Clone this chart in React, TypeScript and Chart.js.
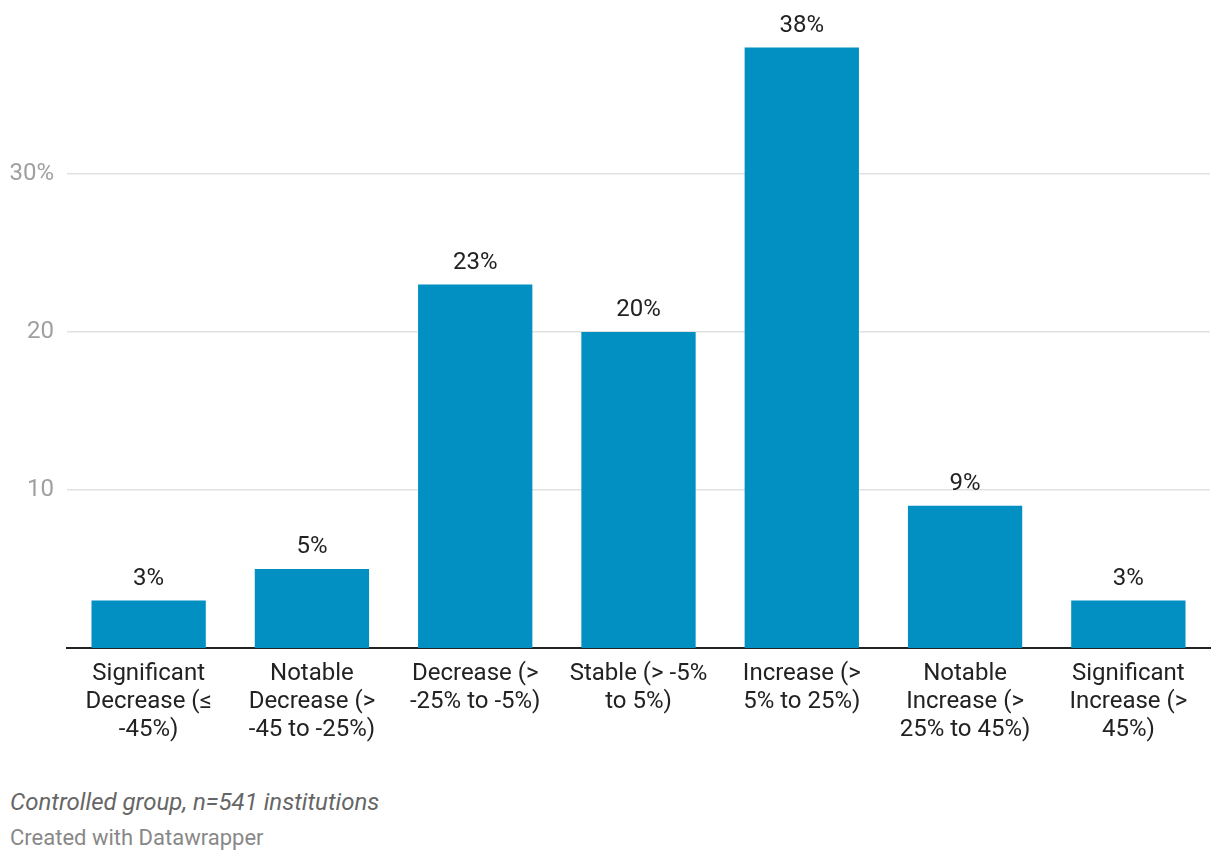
import { useEffect, useRef } from "react";
import { Chart, registerables, Plugin } from "chart.js";

Chart.register(...registerables);

const categories: string[][] = [
  ["Significant", "Decrease (≤", "-45%)"],
  ["Notable", "Decrease (>", "-45 to -25%)"],
  ["Decrease (>", "-25% to -5%)"],
  ["Stable (> -5%", "to 5%)"],
  ["Increase (>", "5% to 25%)"],
  ["Notable", "Increase (>", "25% to 45%)"],
  ["Significant", "Increase (>", "45%)"],
];
const shares = [3, 5, 23, 20, 38, 9, 3];
const yTicks = [10, 20, 30];

const FONT = "Roboto, 'Noto Sans', sans-serif";
const BAR_COLOR = "#0190c1";

// writes the value above every bar
const valueLabels: Plugin<"bar"> = {
  id: "valueLabels",
  afterDatasetsDraw(chart) {
    const ctx = chart.ctx;
    const meta = chart.getDatasetMeta(0);
    ctx.save();
    ctx.font = `24px ${FONT}`;
    ctx.fillStyle = "#222";
    ctx.textAlign = "center";
    ctx.textBaseline = "alphabetic";
    meta.data.forEach((bar, i) => {
      ctx.fillText(`${shares[i]}%`, bar.x, bar.y - 16);
    });
    ctx.restore();
  },
};

export default function App() {
  const canvasRef = useRef<HTMLCanvasElement>(null);

  useEffect(() => {
    if (!canvasRef.current) return;
    const chart = new Chart(canvasRef.current, {
      type: "bar",
      data: {
        labels: categories,
        datasets: [
          {
            data: shares,
            backgroundColor: BAR_COLOR,
            barPercentage: 0.7,
            categoryPercentage: 1,
          },
        ],
      },
      options: {
        animation: false,
        responsive: false,
        layout: { padding: { top: 0, right: 10, left: 0, bottom: 0 } },
        plugins: {
          legend: { display: false },
          tooltip: { enabled: false },
        },
        scales: {
          x: {
            grid: { display: false, drawTicks: false },
            border: { display: true, color: "#222", width: 2 },
            ticks: {
              color: "#222",
              font: { family: FONT, size: 24, lineHeight: 28 / 24 },
              padding: 12,
              maxRotation: 0,
              autoSkip: false,
            },
            afterFit: (scale) => {
              scale.height = 112;
            },
          },
          y: {
            min: 0,
            max: 40,
            afterBuildTicks: (scale) => {
              scale.ticks = yTicks.map((v) => ({ value: v }));
            },
            grid: { color: "#e2e2e2", lineWidth: 1.5, drawTicks: false },
            border: { display: false },
            ticks: {
              color: "#a0a0a0",
              // small line height keeps the label overflow from pushing the plot down
              font: { family: FONT, size: 24, lineHeight: 0.25 },
              padding: 13,
              callback: (v) => (v === 30 ? "30%" : String(v)),
            },
            afterFit: (scale) => {
              scale.width = 67;
            },
          },
        },
      },
      plugins: [valueLabels],
    });
    return () => chart.destroy();
  }, []);

  return (
    <div
      style={{
        position: "fixed",
        left: 0,
        top: 0,
        width: 1220,
        height: 862,
        background: "#fff",
        fontFamily: FONT,
      }}
    >
      <canvas
        ref={canvasRef}
        width={1220}
        height={760}
        style={{ display: "block", width: 1220, height: 760 }}
      />
      <div
        style={{
          position: "absolute",
          left: 10,
          top: 786,
          fontSize: 24,
          fontStyle: "italic",
          color: "#666",
          lineHeight: "32px",
        }}
      >
        Controlled group, n=541 institutions
      </div>
      <div
        style={{
          position: "absolute",
          left: 10,
          top: 824,
          fontSize: 22,
          color: "#888",
          lineHeight: "28px",
        }}
      >
        Created with Datawrapper
      </div>
    </div>
  );
}
